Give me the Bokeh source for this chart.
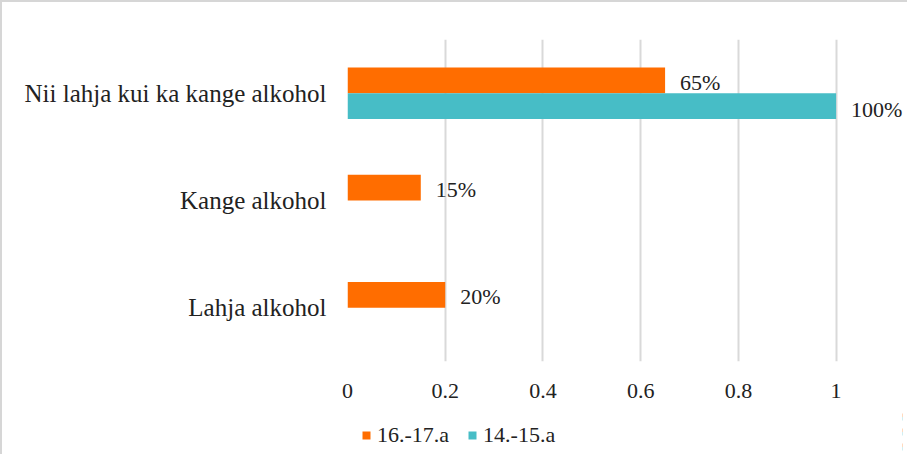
from bokeh.plotting import figure
from bokeh.layouts import column
from bokeh.models import ColumnDataSource, FactorRange, Range1d, FixedTicker, Legend, LegendItem, LabelSet
from bokeh.transform import dodge
from bokeh.embed import file_html
from bokeh.resources import INLINE

categories = ["Lahja alkohol", "Kange alkohol", "Nii lahja kui ka kange alkohol"]
series_names = ["16.-17.a", "14.-15.a"]
values_1617 = [0.20, 0.15, 0.65]
values_1415 = [0.0, 0.0, 1.00]
x_ticks = [0, 0.2, 0.4, 0.6, 0.8, 1]
colors = ["#FF6D00", "#47BDC6"]

FONT = "Liberation Serif"
BORDER = "2px solid #d6d6d6"

src1 = ColumnDataSource(dict(cat=categories, val=values_1617,
                             lab=[f"{round(v*100)}%" if v > 0 else "" for v in values_1617]))
src2 = ColumnDataSource(dict(cat=categories, val=values_1415,
                             lab=[f"{round(v*100)}%" if v > 0 else "" for v in values_1415]))

# ---- main chart ----
p = figure(y_range=FactorRange(*categories), x_range=Range1d(0, 1.14),
           frame_width=555, frame_height=320, output_backend="svg", toolbar_location=None,
           min_border_left=345, min_border_right=5, min_border_top=37, min_border_bottom=50)
p.styles = {"border-top": BORDER, "border-left": BORDER}
p.outline_line_color = None
p.background_fill_color = "white"

p.hbar(y=dodge("cat", 0.12, range=p.y_range), right="val", left=0, height=0.24,
       source=src1, color=colors[0], line_color=None)
p.hbar(y=dodge("cat", -0.12, range=p.y_range), right="val", left=0, height=0.24,
       source=src2, color=colors[1], line_color=None)

for src, off, yoff in ((src1, 0.12, 2), (src2, -0.12, 3)):
    lbl = LabelSet(x="val", y=dodge("cat", off, range=p.y_range), text="lab", source=src,
                   x_offset=15, y_offset=-yoff, text_baseline="middle",
                   text_font=FONT, text_font_size="22px", text_color="#222222")
    p.add_layout(lbl)

p.xaxis.ticker = FixedTicker(ticks=x_ticks)
p.xaxis.major_label_overrides = {0: "0", 1: "1"}
p.xgrid.ticker = FixedTicker(ticks=x_ticks)
p.xgrid.grid_line_color = "#d9d9d9"
p.xgrid.grid_line_width = 2
p.ygrid.grid_line_color = None

for ax in (p.xaxis, p.yaxis):
    ax.axis_line_color = None
    ax.major_tick_line_color = None
    ax.minor_tick_line_color = None
    ax.major_label_text_font = FONT
    ax.major_label_text_color = "#222222"

p.xaxis.major_label_text_font_size = "22px"
p.xaxis.major_label_standoff = 16
p.yaxis.major_label_text_font_size = "25px"
p.yaxis.major_label_standoff = 15

# ---- legend strip (bars fall outside its view, only the legend shows) ----
lg = figure(y_range=FactorRange(*categories), x_range=Range1d(-2, -1),
            width=905, height=45, output_backend="svg", toolbar_location=None,
            x_axis_location=None, y_axis_location=None, min_border=0)
lg.styles = {"border-left": BORDER}
lg.outline_line_color = None
lg.grid.visible = False
l1 = lg.hbar(y=dodge("cat", 0.12, range=lg.y_range), right="val", left=0, height=0.24,
             source=src1, color=colors[0], line_color=None)
l2 = lg.hbar(y=dodge("cat", -0.12, range=lg.y_range), right="val", left=0, height=0.24,
             source=src2, color=colors[1], line_color=None)

legend = Legend(items=[LegendItem(label=series_names[0], renderers=[l1]),
                       LegendItem(label=series_names[1], renderers=[l2])],
                orientation="horizontal", location=(14, 6),
                label_text_font=FONT, label_text_font_size="22px", label_text_color="#222222",
                glyph_width=10, glyph_height=10, label_standoff=6, spacing=18,
                border_line_color=None, background_fill_alpha=0, padding=0, margin=0)
lg.add_layout(legend)

layout = column(p, lg, spacing=0)
open("out.html", "w").write(file_html(layout, INLINE))
